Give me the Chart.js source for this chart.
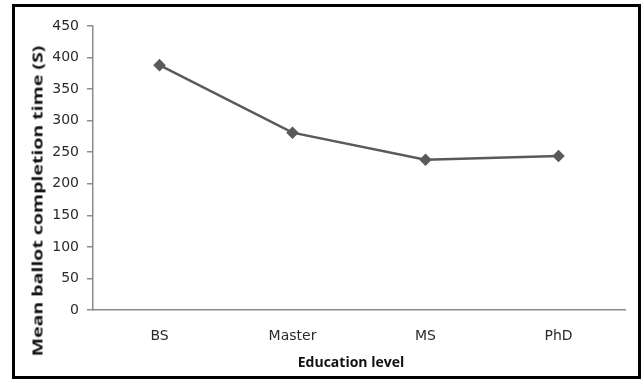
<!DOCTYPE html>
<html>
<head>
<meta charset="utf-8">
<script src="https://cdn.jsdelivr.net/npm/chart.js@4/dist/chart.umd.min.js"></script>
<style>
  html, body { margin: 0; padding: 0; background: #fff; }
  #wrap { position: relative; width: 642px; height: 382px; }
  #myChart { position: absolute; left: 0; top: 0; }
  #frame { position: absolute; left: 12px; top: 4px; width: 629px; height: 375px;
           border: 3px solid #000; box-sizing: border-box; pointer-events: none; }
  .axtitle { position: absolute; font-weight: bold; font-family: 'Open Sans', sans-serif;
             color: #111; white-space: nowrap; line-height: 1; }
  #ytitle { left: 37px; top: 201px; font-size: 15px;
            transform: translate(-50%, -50%) rotate(-90deg) scaleX(1.3); }
  #xtitle { left: 351px; top: 362px; font-size: 14px;
            transform: translate(-50%, -50%); }
</style>
</head>
<body>
<div id="wrap">
  <canvas id="myChart" width="642" height="382"></canvas>
  <div id="ytitle" class="axtitle">Mean ballot completion time (S)</div>
  <div id="xtitle" class="axtitle">Education level</div>
  <div id="frame"></div>
</div>
<script>
// education categories
var levels = ['BS', 'Master', 'MS', 'PhD'];
// mean completion time in seconds
var meanTimes = [388, 281, 238, 244];
var yMin = 0;
var yMax = 450;
var yStep = 50;

var ctx = document.getElementById('myChart').getContext('2d');
var myChart = new Chart(ctx, {
  type: 'line',
  data: {
    labels: levels,
    datasets: [{
      label: 'Mean ballot completion time',
      data: meanTimes,
      borderColor: '#5a5a5a',
      backgroundColor: '#5a5a5a',
      borderWidth: 2.5,
      pointStyle: 'rectRot',
      pointRadius: 4.5,
      tension: 0
    }]
  },
  options: {
    responsive: false,
    animation: false,
    layout: { padding: { left: 28, right: 17, top: 26, bottom: 0 } },
    plugins: {
      legend: { display: false },
      tooltip: { enabled: false }
    },
    scales: {
      x: {
        offset: true,
        grid: { display: false },
        border: { display: true, color: '#8c8c8c', width: 1.5 },
        ticks: { color: '#2a2a2a', padding: 10, font: { family: 'DejaVu Sans', size: 14 } },
        afterFit: function(s) { s.height = 72; }
      },
      y: {
        min: yMin,
        max: yMax,
        grid: { drawOnChartArea: false, drawTicks: true, tickLength: 6, color: '#8c8c8c', lineWidth: 1.5 },
        border: { display: true, color: '#8c8c8c', width: 1.5 },
        ticks: { stepSize: yStep, color: '#2a2a2a', padding: 8, font: { family: 'DejaVu Sans', size: 14 } },
        afterFit: function(s) { s.width = 65; }
      }
    }
  }
});
</script>
</body>
</html>
